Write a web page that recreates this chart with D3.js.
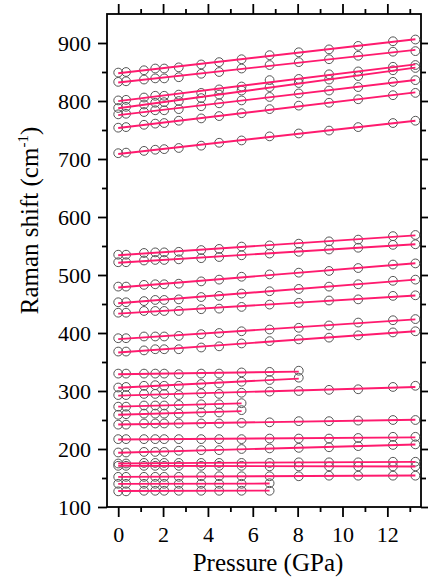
<!DOCTYPE html>
<html>
<head>
<meta charset="utf-8">
<script src="https://cdn.jsdelivr.net/npm/d3@7"></script>
<style>
  html, body { margin: 0; padding: 0; background: #fff; }
  svg { display: block; }
  svg text { font-family: "Liberation Serif", "DejaVu Serif", Tinos, "Times New Roman", serif !important; fill: #000; }
</style>
</head>
<body>
<svg id="chart" width="428" height="577"></svg>
<script>
// Pressure steps (GPa) at which the Raman spectra were recorded
const pressures = [0, 0.35, 1.15, 1.65, 2.05, 2.7, 3.7, 4.5, 5.5, 6.75, 8.05, 9.4, 10.7, 12.25, 13.25];

// Raman mode frequencies (cm-1) at each pressure step
const mode849 = [849, 850, 853, 856, 856, 858, 863, 867, 872, 879, 884, 889, 895, 903, 906];
const mode833 = [833, 834, 837, 839, 839, 841, 847, 850, 856, 862, 867, 872, 878, 885, 886];
const mode801 = [801, 802, 806, 809, 809, 811, 814, 820, 825, 836, 838, 846, 851, 859, 862];
const mode788 = [788, 790, 794, 797, 798, 800, 805, 811, 818, 824, 831, 837, 843, 853, 857];
const mode777 = [777, 778, 781, 784, 784, 786, 791, 796, 801, 807, 813, 818, 824, 833, 836];
const mode754 = [754, 755, 759, 761, 762, 766, 770, 774, 779, 786, 792, 797, 803, 810, 814];
const mode710 = [710, 711, 714, 716, 717, 719, 723, 728, 732, 739, 744, 749, 755, 762, 766];
const mode535 = [535, 535, 538, 539, 539, 540, 543, 545, 549, 551, 554, 558, 561, 567, 569];
const mode522 = [522, 522, 525, 526, 526, 527, 529, 531, 534, 537, 540, 544, 547, 552, 553];
const mode480 = [480, 480, 483, 484, 484, 485, 489, 492, 497, 501, 504, 507, 512, 518, 520];
const mode453 = [453, 453, 455, 457, 457, 458, 462, 464, 468, 472, 476, 480, 484, 490, 492];
const mode435 = [435, 435, 438, 438, 438, 438, 441, 442, 445, 449, 452, 456, 458, 464, 465];
const mode391 = [391, 391, 394, 394, 394, 395, 398, 400, 403, 406, 409, 413, 418, 422, 424];
const mode368 = [368, 368, 370, 372, 372, 372, 375, 377, 382, 386, 389, 392, 396, 401, 403];
const mode330 = [330, 330, 330, 330, 330, 329, 330, 330, 332, 333, 335];
const mode306 = [306, 307, 309, 310, 309, 309, 312, 313, 316, 319, 323];
const mode293 = [293, 293, 295, 295, 295, 293, 296, 295, 297, 299, 300, 302, 303, 307, 309];
const mode273 = [273, 273, 275, 275, 275, 276, 277, 277, 279];
const mode259 = [259, 260, 261, 261, 261, 261, 263, 263, 267];
const mode242 = [242, 242, 244, 244, 244, 244, 244, 244, 245, 246, 248, 248, 249, 250, 250];
const mode217 = [217, 217, 217, 217, 217, 217, 217, 217, 217, 218, 218, 218, 219, 221, 221];
const mode194 = [194, 194, 195, 195, 195, 197, 198, 198, 200, 201, 202, 203, 205, 207, 208];
const mode175 = [175, 175, 176, 176, 176, 176, 176, 176, 176, 176, 177, 177, 177, 178, 178];
const mode171 = [171, 171, 171, 171, 171, 171, 171, 171, 171, 170, 170, 170, 170, 170, 170];
const mode152 = [152, 152, 152, 152, 152, 152, 153, 153, 153, 153, 153, 154, 154, 154, 154];
const mode140 = [140, 140, 140, 140, 140, 140, 140, 140, 140, 141];
const mode127 = [127, 127, 128, 128, 128, 128, 128, 128, 128, 128];

const modes = [mode849, mode833, mode801, mode788, mode777, mode754, mode710,
  mode535, mode522, mode480, mode453, mode435, mode391, mode368,
  mode330, mode306, mode293, mode273, mode259, mode242, mode217,
  mode194, mode175, mode171, mode152, mode140, mode127];

// Axis ticks
const xMajorTicks = [0, 2, 4, 6, 8, 10, 12];
const xMinorTicks = [1, 3, 5, 7, 9, 11, 13];
const yMajorTicks = [100, 200, 300, 400, 500, 600, 700, 800, 900];
const yMinorTicks = [150, 250, 350, 450, 550, 650, 750, 850];

const serif = "'Liberation Serif', 'DejaVu Serif', Tinos, 'Times New Roman', serif";

const svg = d3.select("#chart");
const plotL = 107, plotR = 421, plotT = 14, plotB = 507;

const x = d3.scaleLinear().domain([-0.5, 13.5]).range([plotL, plotR]);
const y = d3.scaleLinear().domain([100, 950]).range([plotB, plotT]);

const axisStroke = 1.8;
const fmt = d3.format("d");

function styleAxis(g) {
  g.attr("font-family", serif);
  g.select(".domain").remove();
  g.selectAll(".tick line").attr("stroke", "#000").attr("stroke-width", axisStroke);
}

// Bottom axis: majors with labels, minors without
svg.append("g").attr("transform", `translate(0,${plotB})`)
  .call(d3.axisBottom(x).tickValues(xMajorTicks).tickFormat(fmt).tickSize(10).tickPadding(9))
  .call(styleAxis)
  .call(g => g.selectAll("text").attr("font-size", 22));
svg.append("g").attr("transform", `translate(0,${plotB})`)
  .call(d3.axisBottom(x).tickValues(xMinorTicks).tickFormat("").tickSize(5))
  .call(styleAxis);

// Top axis ticks
svg.append("g").attr("transform", `translate(0,${plotT})`)
  .call(d3.axisTop(x).tickValues(xMajorTicks).tickFormat("").tickSize(10))
  .call(styleAxis);
svg.append("g").attr("transform", `translate(0,${plotT})`)
  .call(d3.axisTop(x).tickValues(xMinorTicks).tickFormat("").tickSize(5))
  .call(styleAxis);

// Left axis
svg.append("g").attr("transform", `translate(${plotL},0)`)
  .call(d3.axisLeft(y).tickValues(yMajorTicks).tickFormat(fmt).tickSize(9).tickPadding(7))
  .call(styleAxis)
  .call(g => g.selectAll("text").attr("font-size", 22));
svg.append("g").attr("transform", `translate(${plotL},0)`)
  .call(d3.axisLeft(y).tickValues(yMinorTicks).tickFormat("").tickSize(5))
  .call(styleAxis);

// Right axis ticks
svg.append("g").attr("transform", `translate(${plotR},0)`)
  .call(d3.axisRight(y).tickValues(yMajorTicks).tickFormat("").tickSize(9))
  .call(styleAxis);
svg.append("g").attr("transform", `translate(${plotR},0)`)
  .call(d3.axisRight(y).tickValues(yMinorTicks).tickFormat("").tickSize(5))
  .call(styleAxis);

// Plot frame
svg.append("rect")
  .attr("x", plotL).attr("y", plotT)
  .attr("width", plotR - plotL).attr("height", plotB - plotT)
  .attr("fill", "none").attr("stroke", "#000").attr("stroke-width", axisStroke);

// Data points (open circles)
const pts = svg.append("g");
modes.forEach(vals => {
  pts.selectAll(null)
    .data(vals.map((v, i) => [pressures[i], v]))
    .join("circle")
    .attr("cx", d => x(d[0]))
    .attr("cy", d => y(d[1]))
    .attr("r", 4.4)
    .attr("fill", "none")
    .attr("stroke", "#555")
    .attr("stroke-width", 1);
});

// Linear least-squares fit for each mode
function linFit(xs, ys) {
  const n = xs.length;
  const mx = d3.mean(xs), my = d3.mean(ys);
  let sxy = 0, sxx = 0;
  for (let i = 0; i < n; i++) {
    sxy += (xs[i] - mx) * (ys[i] - my);
    sxx += (xs[i] - mx) * (xs[i] - mx);
  }
  const b = sxy / sxx;
  return p => my + b * (p - mx);
}

const fitLine = d3.line().x(d => x(d[0])).y(d => y(d[1]));
const fits = svg.append("g");
modes.forEach(vals => {
  const xs = pressures.slice(0, vals.length);
  const f = linFit(xs, vals);
  const ends = [xs[0], xs[xs.length - 1]].map(p => [p, f(p)]);
  fits.append("path")
    .attr("d", fitLine(ends))
    .attr("fill", "none")
    .attr("stroke", "#ff1a6e")
    .attr("stroke-width", 1.9);
});

// Axis titles
svg.append("text")
  .attr("x", (plotL + plotR) / 2 + 4)
  .attr("y", 571)
  .attr("text-anchor", "middle")
  .attr("font-family", serif)
  .attr("font-size", 25)
  .text("Pressure (GPa)");

const yTitle = svg.append("text")
  .attr("transform", `translate(38,${(plotT + plotB) / 2 - 40}) rotate(-90)`)
  .attr("text-anchor", "middle")
  .attr("font-family", serif)
  .attr("font-size", 25);
yTitle.append("tspan").text("Raman shift (cm");
yTitle.append("tspan").attr("font-size", 15).attr("dy", -10).text("-1");
yTitle.append("tspan").attr("dy", 10).text(")");
</script>
</body>
</html>
